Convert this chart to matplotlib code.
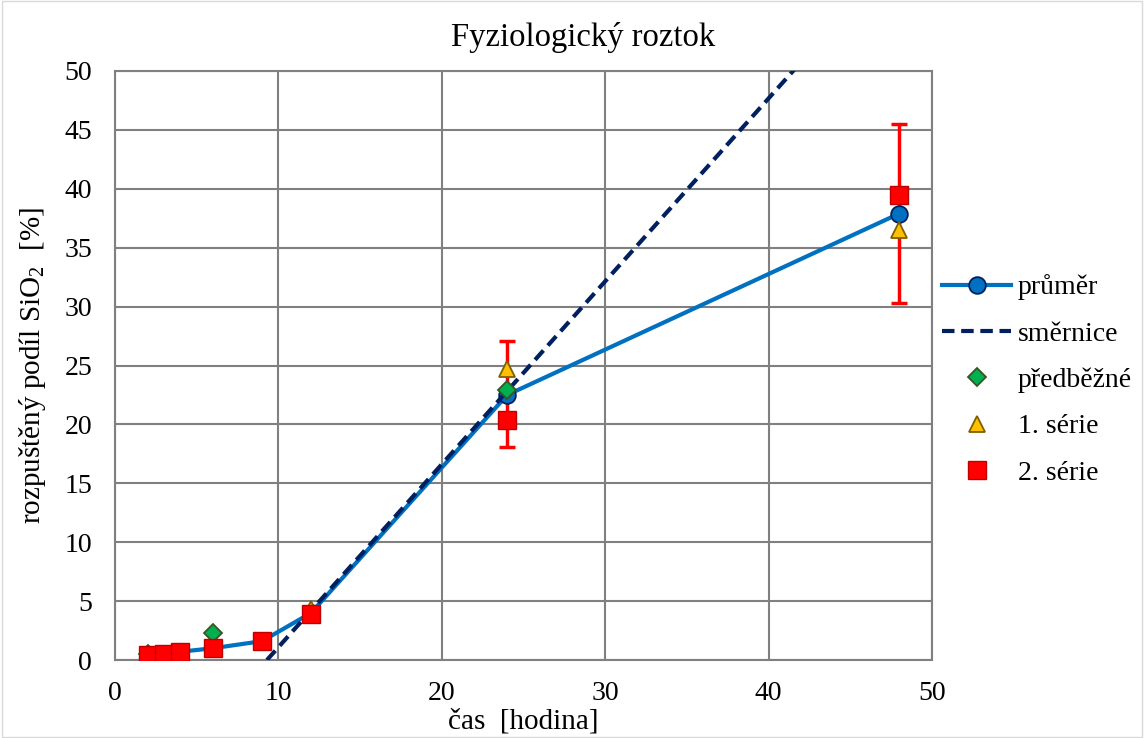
import matplotlib
matplotlib.use("Agg")
import matplotlib.pyplot as plt
from matplotlib.patches import Rectangle
import numpy as np

plt.rcParams['font.family'] = ['Liberation Serif', 'DejaVu Serif']
plt.rcParams['mathtext.fontset'] = 'custom'
plt.rcParams['mathtext.rm'] = 'Liberation Serif'

# data
x_mean = [2, 3, 4, 6, 9, 12, 24, 48]
y_mean = [0.4, 0.5, 0.7, 1.0, 1.6, 4.0, 22.5, 37.9]
err_x = [12, 24, 48]
err_y = [4.0, 22.6, 37.9]
err_v = [0.5, 4.5, 7.6]
x_pred = [2, 4, 6, 24]
y_pred = [0.5, 0.1, 2.3, 22.9]
x_s1 = [2, 3, 4, 12, 24, 48]
y_s1 = [0.3, 0.4, 0.6, 4.3, 24.7, 36.5]
x_s2 = [2, 3, 4, 6, 9, 12, 24, 48]
y_s2 = [0.4, 0.5, 0.7, 1.0, 1.6, 3.9, 20.4, 39.5]
trend_slope = 1.553
trend_x0 = 9.3  # x-intercept

fig = plt.figure(figsize=(11.44, 7.38), dpi=100)
ax = fig.add_axes([115/1144, 1 - 660/738, (932-115)/1144, (660-71)/738])

blue = '#0070C0'
navy = '#002060'

ax.errorbar(err_x, err_y, yerr=err_v, fmt='none', ecolor='#FF0000',
            elinewidth=2.5, capsize=6, capthick=2.5, zorder=2)
ax.plot(x_mean, y_mean, color=blue, lw=3, marker='o', ms=12,
        mfc=blue, mec=navy, mew=1.3, zorder=3, label='průměr')
tx = np.array([trend_x0, 50])
ax.plot(tx, trend_slope * (tx - trend_x0), color=navy, lw=3,
        ls=(0, (3, 1.6)), zorder=4, label='směrnice')
ax.plot(x_pred, y_pred, ls='none', marker='D', ms=9.5, mfc='#00B050',
        mec='#375623', mew=1.3, zorder=5, label='předběžné')
ax.plot(x_s1, y_s1, ls='none', marker='^', ms=12, mfc='#FFC000',
        mec='#7F6000', mew=1.3, zorder=6, label='1. série')
ax.plot(x_s2, y_s2, ls='none', marker='s', ms=12.5, mfc='#FF0000',
        mec='#C00000', mew=1.0, zorder=7, label='2. série')

ax.set_xlim(0, 50)
ax.set_ylim(0, 50)
ax.set_xticks(range(0, 51, 10))
ax.set_yticks(range(0, 51, 5))
ax.grid(True, color='#808080', lw=1.5)
ax.set_axisbelow(True)
for s in ax.spines.values():
    s.set_color('#808080')
    s.set_linewidth(1.5)
ax.tick_params(length=0, labelsize=20)
ax.tick_params(axis='x', pad=15)
ax.tick_params(axis='y', pad=16.5)

ax.set_title('Fyziologický roztok', fontsize=23.5, pad=18, x=(583-115)/817)
ax.set_xlabel('čas  [hodina]', fontsize=21, labelpad=2)
ax.set_ylabel('rozpuštěný podíl SiO$_2$  [%]', fontsize=21, labelpad=12)

leg = fig.legend(*ax.get_legend_handles_labels(), loc='center left',
                 bbox_to_anchor=(942/1144, 1 - 380/738), frameon=False,
                 fontsize=20, handlelength=2.5, handletextpad=0.22,
                 labelspacing=0.75, borderpad=0, borderaxespad=0)

fig.patches.append(Rectangle((0.002, 0.002), 0.996, 0.996, transform=fig.transFigure,
                             fill=False, edgecolor='#D9D9D9', lw=1))

fig.savefig('out.png', dpi=100)
